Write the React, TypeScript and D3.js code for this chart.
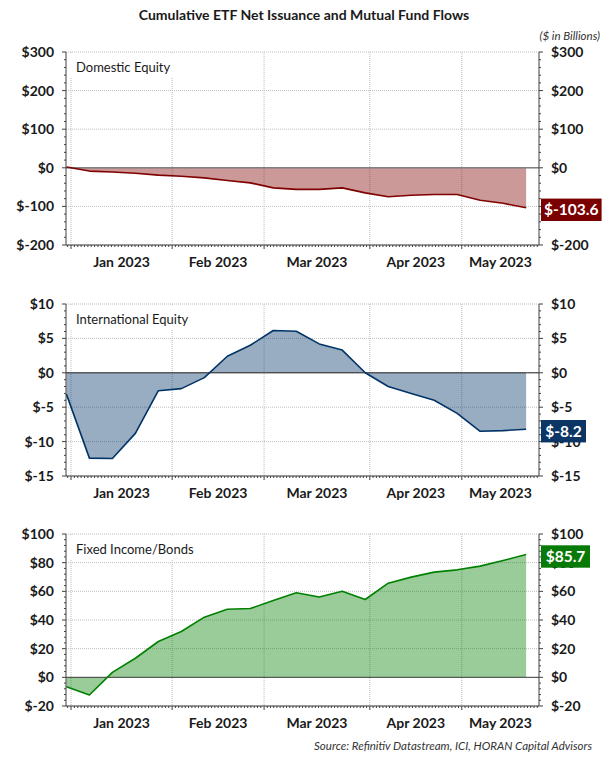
import React from "react";
import * as d3 from "d3";

// ---------- DATA ----------
const weekDates = [
  "2022-12-30", "2023-01-06", "2023-01-13", "2023-01-20", "2023-01-27",
  "2023-02-03", "2023-02-10", "2023-02-17", "2023-02-24", "2023-03-03",
  "2023-03-10", "2023-03-17", "2023-03-24", "2023-03-31", "2023-04-07",
  "2023-04-14", "2023-04-21", "2023-04-28", "2023-05-05", "2023-05-12",
  "2023-05-19",
];
const domesticEquity = [2, -8.5, -11, -14, -19, -22, -26, -33, -39, -52, -56, -56, -52, -65, -75, -71, -69, -69, -84, -92, -103.6];
const internationalEquity = [-3.1, -12.4, -12.45, -8.8, -2.6, -2.3, -0.7, 2.4, 4.0, 6.15, 6.05, 4.2, 3.3, 0, -2.0, -3.0, -4.0, -5.9, -8.5, -8.4, -8.2];
const fixedIncome = [-6.5, -12.3, 3.5, 13.3, 25, 32, 42, 47.5, 48, 53.6, 59, 56, 60, 54.3, 65.7, 69.9, 73.4, 75, 77.6, 81.5, 85.7];

const monthStarts = ["2023-01-02", "2023-02-01", "2023-03-01", "2023-04-03", "2023-05-01"];
const monthLabels = ["Jan 2023", "Feb 2023", "Mar 2023", "Apr 2023", "May 2023"];

const domesticTicks = [300, 200, 100, 0, -100, -200];
const internationalTicks = [10, 5, 0, -5, -10, -15];
const fixedIncomeTicks = [100, 80, 60, 40, 20, 0, -20];

const titleText = "Cumulative ETF Net Issuance and Mutual Fund Flows";
const unitsText = "($ in Billions)";
const sourceText = "Source: Refinitiv Datastream, ICI, HORAN Capital Advisors";

// ---------- LAYOUT ----------
const W = 608;
const H = 757;
const X_LEFT = 66;
const X_RIGHT = 539;
const FONT = "Lato, 'Open Sans', sans-serif";

const parse = d3.timeParse("%Y-%m-%d");
const BASE = parse("2023-01-02") as Date;
const isWeekday = (d: Date) => d.getDay() !== 0 && d.getDay() !== 6;
function bday(d: Date): number {
  return d >= BASE
    ? d3.timeDay.range(BASE, d).filter(isWeekday).length
    : -d3.timeDay.range(d, BASE).filter(isWeekday).length;
}

const x = d3.scaleLinear().domain([-1.09, 101.8]).range([X_LEFT, X_RIGHT]);
const weekX = weekDates.map((s) => x(bday(parse(s) as Date)));
const monthX = monthStarts.map((s) => x(bday(parse(s) as Date)));
const monthCenters = monthX.map((m, i) => (i < monthX.length - 1 ? (m + monthX[i + 1]) / 2 : (m + X_RIGHT) / 2));

// calendar day minor ticks (piecewise between month starts)
const calScale = d3
  .scaleTime()
  .domain(monthStarts.map((s) => parse(s) as Date))
  .range(monthX);
const minorX = d3.timeDay
  .range(parse("2022-12-20") as Date, parse("2023-06-05") as Date)
  .map((d) => calScale(d))
  .filter((p) => p >= X_LEFT + 1 && p <= X_RIGHT - 1 && monthX.every((m) => Math.abs(m - p) > 1));

const fmt = (v: number) => `$${v}`;

interface PanelProps {
  top: number;
  bottom: number;
  ticks: number[];
  values: number[];
  label: string;
  color: string;
  boxColor: string;
  zeroColor: string;
  zeroWidth: number;
}

function Panel({ top, bottom, ticks, values, label, color, boxColor, zeroColor, zeroWidth }: PanelProps) {
  const yMax = d3.max(ticks) as number;
  const yMin = d3.min(ticks) as number;
  const y = d3.scaleLinear().domain([yMin, yMax]).range([bottom, top]);
  const step = ticks[0] - ticks[1];
  const allMinor: number[] = [];
  for (let t = 0; t < ticks.length - 1; t++) {
    const hi = ticks[t];
    for (let k = 1; k < 5; k++) allMinor.push(hi - (k * step) / 5);
  }
  const pts = values.map((v, i) => [weekX[i], v] as [number, number]);
  const area = d3
    .area<[number, number]>()
    .x((d) => d[0])
    .y0(y(0))
    .y1((d) => y(d[1]))(pts) as string;
  const line = d3
    .line<[number, number]>()
    .x((d) => d[0])
    .y((d) => y(d[1]))(pts) as string;
  const last = values[values.length - 1];
  const lastText = `$${last.toFixed(1)}`;
  const boxW = lastText.length * 7.8 + 10 - (lastText.includes("-") ? 4 : 0);
  const boxCy = y(last) + 2;
  const grid = "#bdbdbd";
  const axisC = "#404040";

  return (
    <g>
      {ticks.map((t) => (
        <line key={"hg" + t} x1={X_LEFT} x2={X_RIGHT} y1={y(t)} y2={y(t)} stroke={grid} strokeWidth={1} strokeDasharray="1,1" />
      ))}
      {monthX.map((m, i) => (
        <line key={"vg" + i} x1={m} x2={m} y1={top} y2={bottom} stroke={grid} strokeWidth={1} strokeDasharray="1,1" />
      ))}
      <rect x={X_LEFT + 2} y={top + 1} width={110} height={25} fill="#ffffff" />
      <text x={76} y={top + 20} fontFamily={FONT} fontSize={13} fill="#1a1a1a">
        {label}
      </text>
      <path d={area} fill={color} fillOpacity={0.4} stroke="none" />
      <line x1={X_LEFT} x2={X_RIGHT} y1={y(0)} y2={y(0)} stroke={zeroColor} strokeWidth={zeroWidth} />
      <path d={line} fill="none" stroke={color} strokeWidth={1.6} strokeLinejoin="round" />
      <line x1={X_LEFT} x2={X_LEFT} y1={top} y2={bottom} stroke={axisC} strokeWidth={1} />
      <line x1={X_RIGHT} x2={X_RIGHT} y1={top} y2={bottom} stroke={axisC} strokeWidth={1} />
      <line x1={X_LEFT} x2={X_RIGHT} y1={bottom} y2={bottom} stroke={axisC} strokeWidth={1} />
      {ticks.map((t) => (
        <g key={"yt" + t}>
          <line x1={X_LEFT - 4} x2={X_LEFT} y1={y(t)} y2={y(t)} stroke={axisC} />
          <line x1={X_RIGHT} x2={X_RIGHT + 4} y1={y(t)} y2={y(t)} stroke={axisC} />
          <text x={54} y={y(t)} dy="0.36em" textAnchor="end" fontFamily={FONT} fontWeight={700} fontSize={14} fill="#1a1a1a">
            {fmt(t)}
          </text>
          <text x={551} y={y(t)} dy="0.36em" textAnchor="start" fontFamily={FONT} fontWeight={700} fontSize={14} fill="#1a1a1a">
            {fmt(t)}
          </text>
        </g>
      ))}
      {allMinor.map((t, i) => (
        <g key={"ym" + i}>
          <line x1={X_LEFT - 2} x2={X_LEFT} y1={y(t)} y2={y(t)} stroke={axisC} />
          <line x1={X_RIGHT} x2={X_RIGHT + 2} y1={y(t)} y2={y(t)} stroke={axisC} />
        </g>
      ))}
      {monthX.map((m, i) => (
        <line key={"xt" + i} x1={m} x2={m} y1={bottom} y2={bottom + 4} stroke={axisC} />
      ))}
      {minorX.map((p, i) => (
        <line key={"xm" + i} x1={p} x2={p} y1={bottom} y2={bottom + 2} stroke={axisC} />
      ))}
      {monthCenters.map((c, i) => (
        <text key={"ml" + i} x={c} y={bottom + 22} textAnchor="middle" fontFamily={FONT} fontWeight={700} fontSize={14} fill="#1a1a1a">
          {monthLabels[i]}
        </text>
      ))}
      <rect x={X_RIGHT + 2} y={boxCy - 11.2} width={boxW} height={22.4} fill={boxColor} />
      <text x={X_RIGHT + 2 + boxW / 2} y={boxCy} dy="0.36em" textAnchor="middle" fontFamily={FONT} fontWeight={700} fontSize={15.5} fill="#ffffff">
        {lastText}
      </text>
    </g>
  );
}

export default function App() {
  return (
    <svg width={W} height={H} style={{ position: "absolute", left: 0, top: 0, background: "#ffffff" }}>
      <rect x={0} y={0} width={W} height={H} fill="#ffffff" />
      <text x={W / 2} y={20} textAnchor="middle" fontFamily={FONT} fontWeight={700} fontSize={14} fill="#1a1a1a">
        {titleText}
      </text>
      <text x={600} y={40} textAnchor="end" fontFamily={FONT} fontStyle="italic" fontSize={11.5} fill="#333333">
        {unitsText}
      </text>
      <Panel top={52} bottom={245} ticks={domesticTicks} values={domesticEquity} label="Domestic Equity" color="#800000" boxColor="#7a0000" zeroColor="#808080" zeroWidth={1.6} />
      <Panel top={304} bottom={476} ticks={internationalTicks} values={internationalEquity} label="International Equity" color="#003366" boxColor="#0b3564" zeroColor="#262626" zeroWidth={1} />
      <Panel top={534} bottom={706} ticks={fixedIncomeTicks} values={fixedIncome} label="Fixed Income/Bonds" color="#008000" boxColor="#087a08" zeroColor="#404040" zeroWidth={1} />
      <text x={592} y={750} textAnchor="end" fontFamily={FONT} fontStyle="italic" fontSize={11.5} fill="#333333">
        {sourceText}
      </text>
    </svg>
  );
}
